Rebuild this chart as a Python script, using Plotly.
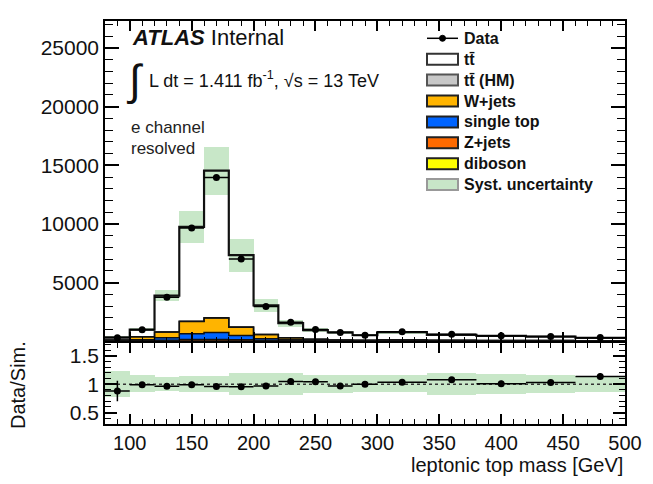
import plotly.graph_objects as go

# ---------------- data ----------------
bin_edges = [80, 100, 120, 140, 160, 180, 200, 220, 240, 260, 280, 300, 340, 380, 420, 460, 500]
data_counts = [300, 985, 3770, 9670, 13970, 7020, 2975, 1632, 1009, 752, 521, 812, 600, 470, 420, 330]
data_err = [17, 31, 61, 98, 118, 84, 55, 40, 32, 27, 23, 28, 24, 22, 20, 18]
ttbar = [230, 608, 3097, 8050, 12543, 6132, 2477, 1251, 783, 648, 417, 647, 457, 382, 339, 235]
ttbar_hm = [0, 2, 5, 10, 12, 8, 5, 3, 2, 2, 2, 3, 3, 3, 3, 3]
wjets = [60, 250, 500, 1050, 1230, 700, 350, 160, 90, 60, 50, 60, 40, 35, 30, 25]
single_top = [30, 80, 200, 500, 600, 380, 150, 80, 50, 35, 28, 40, 30, 25, 20, 15]
zjets = [15, 40, 80, 120, 130, 100, 60, 40, 25, 18, 14, 20, 14, 10, 8, 6]
diboson = [5, 15, 25, 35, 35, 30, 25, 20, 15, 12, 10, 15, 12, 10, 8, 6]
syst_rel = [0.23, 0.15, 0.12, 0.14, 0.14, 0.19, 0.19, 0.19, 0.16, 0.16, 0.15, 0.15, 0.2, 0.18, 0.16, 0.14]
ratio_err = [0.18, 0.03, 0.015, 0.01, 0.01, 0.012, 0.02, 0.025, 0.03, 0.035, 0.045, 0.035, 0.045, 0.05, 0.05, 0.06]
main_yticks = [5000, 10000, 15000, 20000, 25000]
main_yticklabels = ["5000", "10000", "15000", "20000", "25000"]
ratio_yticks = [0.5, 1, 1.5]
ratio_yticklabels = ["0.5", "1", "1.5"]
x_ticks = [100, 150, 200, 250, 300, 350, 400, 450, 500]
x_ticklabels = ["100", "150", "200", "250", "300", "350", "400", "450", "500"]

# ---------------- derived ----------------
n = len(data_counts)
centers = [(bin_edges[i] + bin_edges[i + 1]) / 2 for i in range(n)]
widths = [bin_edges[i + 1] - bin_edges[i] for i in range(n)]
half_w = [w / 2 for w in widths]

# stack bottom -> top
stack = [
    ("diboson", diboson, "#ffff00"),
    ("Z+jets", zjets, "#ff6a00"),
    ("single top", single_top, "#0064ff"),
    ("W+jets", wjets, "#ffb400"),
    ("tt̄ (HM)", ttbar_hm, "#c8c8c8"),
    ("tt̄", ttbar, "#ffffff"),
]

FONT = "Liberation Sans, Arial, Helvetica, sans-serif"
fig = go.Figure()

cum = [0.0] * n
cum_levels = []
for name, vals, col in stack:
    fig.add_trace(go.Bar(x=centers, y=vals, base=list(cum), width=widths,
                         marker=dict(color=col, line=dict(width=0)),
                         xaxis="x", yaxis="y", showlegend=False, hoverinfo="skip"))
    cum = [c + v for c, v in zip(cum, vals)]
    cum_levels.append(list(cum))
mc_total = cum

# syst band main
band_base = [m * (1 - u) for m, u in zip(mc_total, syst_rel)]
band_h = [2 * m * u for m, u in zip(mc_total, syst_rel)]
fig.add_trace(go.Bar(x=centers, y=band_h, base=band_base, width=widths,
                     marker=dict(color="rgba(140,205,140,0.48)", line=dict(width=0)),
                     xaxis="x", yaxis="y", showlegend=False, hoverinfo="skip"))

# step outlines
for i, lvl in enumerate(cum_levels):
    lw = 2.2 if i == len(cum_levels) - 1 else 1.5
    fig.add_trace(go.Scatter(x=bin_edges, y=lvl + [lvl[-1]], mode="lines",
                             line=dict(color="#111", width=lw, shape="hv"),
                             xaxis="x", yaxis="y", showlegend=False, hoverinfo="skip"))

# data main
fig.add_trace(go.Scatter(x=centers, y=data_counts, mode="markers",
                         marker=dict(color="black", size=7),
                         error_x=dict(type="data", array=half_w, color="black", thickness=1.5, width=0),
                         error_y=dict(type="data", array=data_err, color="black", thickness=1.5, width=0),
                         xaxis="x", yaxis="y", showlegend=False))

# ratio band
fig.add_trace(go.Bar(x=centers, y=[2 * u for u in syst_rel], base=[1 - u for u in syst_rel], width=widths,
                     marker=dict(color="rgba(140,205,140,0.48)", line=dict(width=0)),
                     xaxis="x2", yaxis="y2", showlegend=False, hoverinfo="skip"))
ratio = [d / m for d, m in zip(data_counts, mc_total)]
fig.add_trace(go.Scatter(x=[bin_edges[0], bin_edges[-1]], y=[1, 1], mode="lines",
                         line=dict(color="#333", width=1.5, dash="dot"),
                         xaxis="x2", yaxis="y2", showlegend=False, hoverinfo="skip"))
fig.add_trace(go.Scatter(x=centers, y=ratio, mode="markers",
                         marker=dict(color="black", size=7),
                         error_x=dict(type="data", array=half_w, color="black", thickness=1.5, width=0),
                         error_y=dict(type="data", array=ratio_err, color="black", thickness=1.5, width=0),
                         xaxis="x2", yaxis="y2", showlegend=False))

# ---------------- layout ----------------
L, R, T, B = 105, 28, 21, 60
W, H = 653, 484
PW, PH = W - L - R, H - T - B


def px(xp):
    return (xp - L) / PW


def py(yp):
    return (H - B - yp) / PH


axis_common = dict(showline=True, linecolor="black", linewidth=1.5, mirror="allticks",
                   ticks="inside", tickcolor="black", showgrid=False, zeroline=False)
tf_x = dict(family=FONT, size=20, color="#111")
tf_y = dict(family=FONT, size=21, color="#111")

fig.update_layout(
    width=W, height=H, margin=dict(l=L, r=R, t=T, b=B),
    paper_bgcolor="white", plot_bgcolor="white", barmode="overlay", bargap=0,
    showlegend=False,
    xaxis=dict(domain=[0, 1], range=[80, 500], anchor="y", showticklabels=False,
               tickvals=x_ticks, ticklen=10, tickwidth=1.5, tickfont=tf_x,
               minor=dict(ticks="inside", dtick=10, tick0=80, ticklen=5, tickcolor="black", tickwidth=1),
               **axis_common),
    yaxis=dict(domain=[0.205, 1], range=[0, 27300], anchor="x",
               tickvals=main_yticks, ticktext=main_yticklabels, ticklen=14, tickwidth=1.5, tickfont=tf_y,
               minor=dict(ticks="inside", dtick=1000, tick0=0, ticklen=8, tickcolor="black", tickwidth=1),
               **axis_common),
    xaxis2=dict(domain=[0, 1], range=[80, 500], anchor="y2", matches="x",
                tickvals=x_ticks, ticktext=x_ticklabels, ticklen=10, tickwidth=1.5, tickfont=tf_x,
                minor=dict(ticks="inside", dtick=10, tick0=80, ticklen=5, tickcolor="black", tickwidth=1),
                **axis_common),
    yaxis2=dict(domain=[0, 0.2], range=[0.3, 1.72], anchor="x2",
                tickvals=ratio_yticks, ticktext=ratio_yticklabels, ticklen=12, tickwidth=1.5, tickfont=tf_y,
                minor=dict(ticks="inside", dtick=0.1, tick0=0, ticklen=6, tickcolor="black", tickwidth=1),
                **axis_common),
)

ann = []
ann.append(dict(x=px(130), y=py(37), xref="paper", yref="paper", xanchor="left", yanchor="middle",
                text="<b><i>ATLAS</i></b> Internal", showarrow=False,
                font=dict(family=FONT, size=22, color="#111")))
ann.append(dict(x=px(124), y=py(80), xref="paper", yref="paper", xanchor="left", yanchor="middle",
                text="∫", showarrow=False, font=dict(family=FONT, size=43, color="#111")))
ann.append(dict(x=px(147), y=py(79), xref="paper", yref="paper", xanchor="left", yanchor="middle",
                text="L dt = 1.411 fb<sup>-1</sup>, √s = 13 TeV", showarrow=False,
                font=dict(family=FONT, size=18, color="#111")))
ann.append(dict(x=px(129), y=py(127), xref="paper", yref="paper", xanchor="left", yanchor="middle",
                text="e channel", showarrow=False, font=dict(family=FONT, size=17, color="#222")))
ann.append(dict(x=px(129), y=py(148), xref="paper", yref="paper", xanchor="left", yanchor="middle",
                text="resolved", showarrow=False, font=dict(family=FONT, size=17, color="#222")))
ann.append(dict(x=1.0, y=py(465), xref="paper", yref="paper", xanchor="right", yanchor="middle",
                text="leptonic top mass [GeV]", showarrow=False, font=dict(family=FONT, size=20, color="#111")))
ann.append(dict(x=px(18), y=py(385), xref="paper", yref="paper", xanchor="center", yanchor="middle",
                text="Data/Sim.", textangle=-90, showarrow=False, font=dict(family=FONT, size=20, color="#111")))

# legend (manual)
legend_rows = [
    ("Data", None, None),
    ("tt̄", "#ffffff", "#333"),
    ("tt̄ (HM)", "#c8c8c8", "#555"),
    ("W+jets", "#ffb400", "#222"),
    ("single top", "#0064ff", "#222"),
    ("Z+jets", "#ff6a00", "#222"),
    ("diboson", "#ffff00", "#222"),
    ("Syst. uncertainty", "#c8e6c8", "#999"),
]
shapes = []
y0 = 38.3
dy = 20.9
for i, (lab, fc, lc) in enumerate(legend_rows):
    yc = y0 + i * dy
    if fc is None:
        shapes.append(dict(type="line", xref="paper", yref="paper", x0=px(427), x1=px(458),
                           y0=py(yc), y1=py(yc), line=dict(color="black", width=1.5)))
        shapes.append(dict(type="circle", xref="paper", yref="paper", x0=px(439.5), x1=px(445.5),
                           y0=py(yc + 3), y1=py(yc - 3), fillcolor="black", line=dict(color="black", width=1)))
    else:
        shapes.append(dict(type="rect", xref="paper", yref="paper", x0=px(427), x1=px(458),
                           y0=py(yc + 5.5), y1=py(yc - 5.5), fillcolor=fc, line=dict(color=lc, width=2)))
    ann.append(dict(x=px(462), y=py(yc), xref="paper", yref="paper", xanchor="left", yanchor="middle",
                    text="<b>%s</b>" % lab, showarrow=False, font=dict(family=FONT, size=16, color="#111")))

fig.update_layout(annotations=ann, shapes=shapes)
fig.write_html("out.html")
